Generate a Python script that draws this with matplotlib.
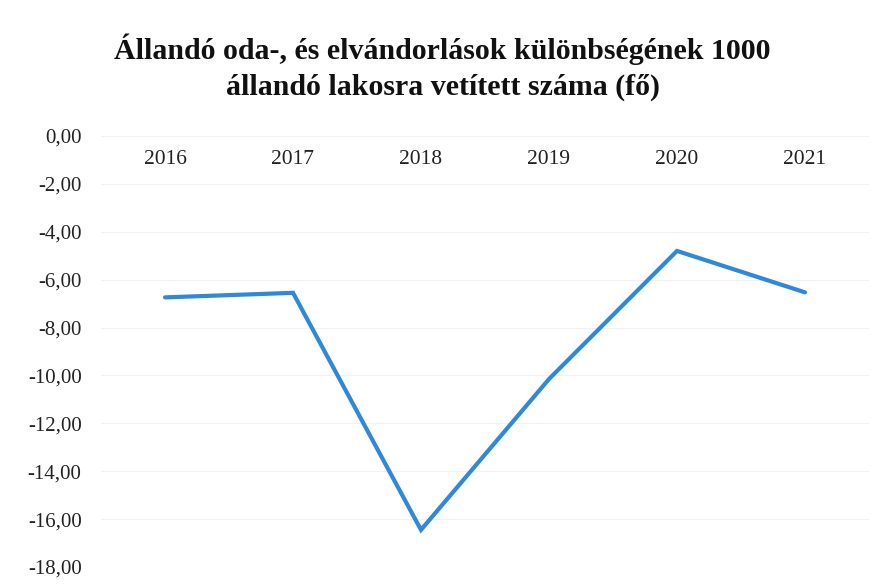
import matplotlib
matplotlib.use("Agg")
import matplotlib.pyplot as plt

years = ["2016", "2017", "2018", "2019", "2020", "2021"]
values = [-6.74, -6.55, -16.45, -10.15, -4.8, -6.53]
yticks = [0, -2, -4, -6, -8, -10, -12, -14, -16, -18]
title = "Állandó oda-, és elvándorlások különbségének 1000\nállandó lakosra vetített száma (fő)"

plt.rcParams['font.family'] = ['Liberation Serif', 'DejaVu Serif']

fig = plt.figure(figsize=(8.85, 5.85), dpi=100)
ax = fig.add_axes([101/885, 1 - 567/585, (869-101)/885, (567-136)/585])

x = list(range(len(years)))
ax.plot(x, values, color='#2f88d8', lw=3.0, solid_capstyle='round', solid_joinstyle='miter', zorder=3)

ax.set_xlim(-0.5, len(years) - 0.5)
ax.set_ylim(-18, 0)
ax.set_yticks(yticks)
ax.set_yticklabels([f"{v:.2f}".replace('.', ',') for v in yticks], fontsize=15, color='#222222')
ax.tick_params(axis='y', length=0, pad=14)
ax.set_xticks([])
for sp in ax.spines.values():
    sp.set_visible(False)
for v in yticks:
    ax.axhline(v, color='#f1f1f1', lw=0.8, zorder=1)

for xi, lab in zip(x, years):
    ax.text(xi, -0.6, lab, ha='center', va='top', fontsize=15.5, color='#222222')

fig.text(0.5, 1 - 67/585, title, ha='center', va='center', fontsize=21.5, fontweight='bold',
         color='#111111', linespacing=1.4)

fig.savefig("out.png", dpi=100, facecolor='white')
